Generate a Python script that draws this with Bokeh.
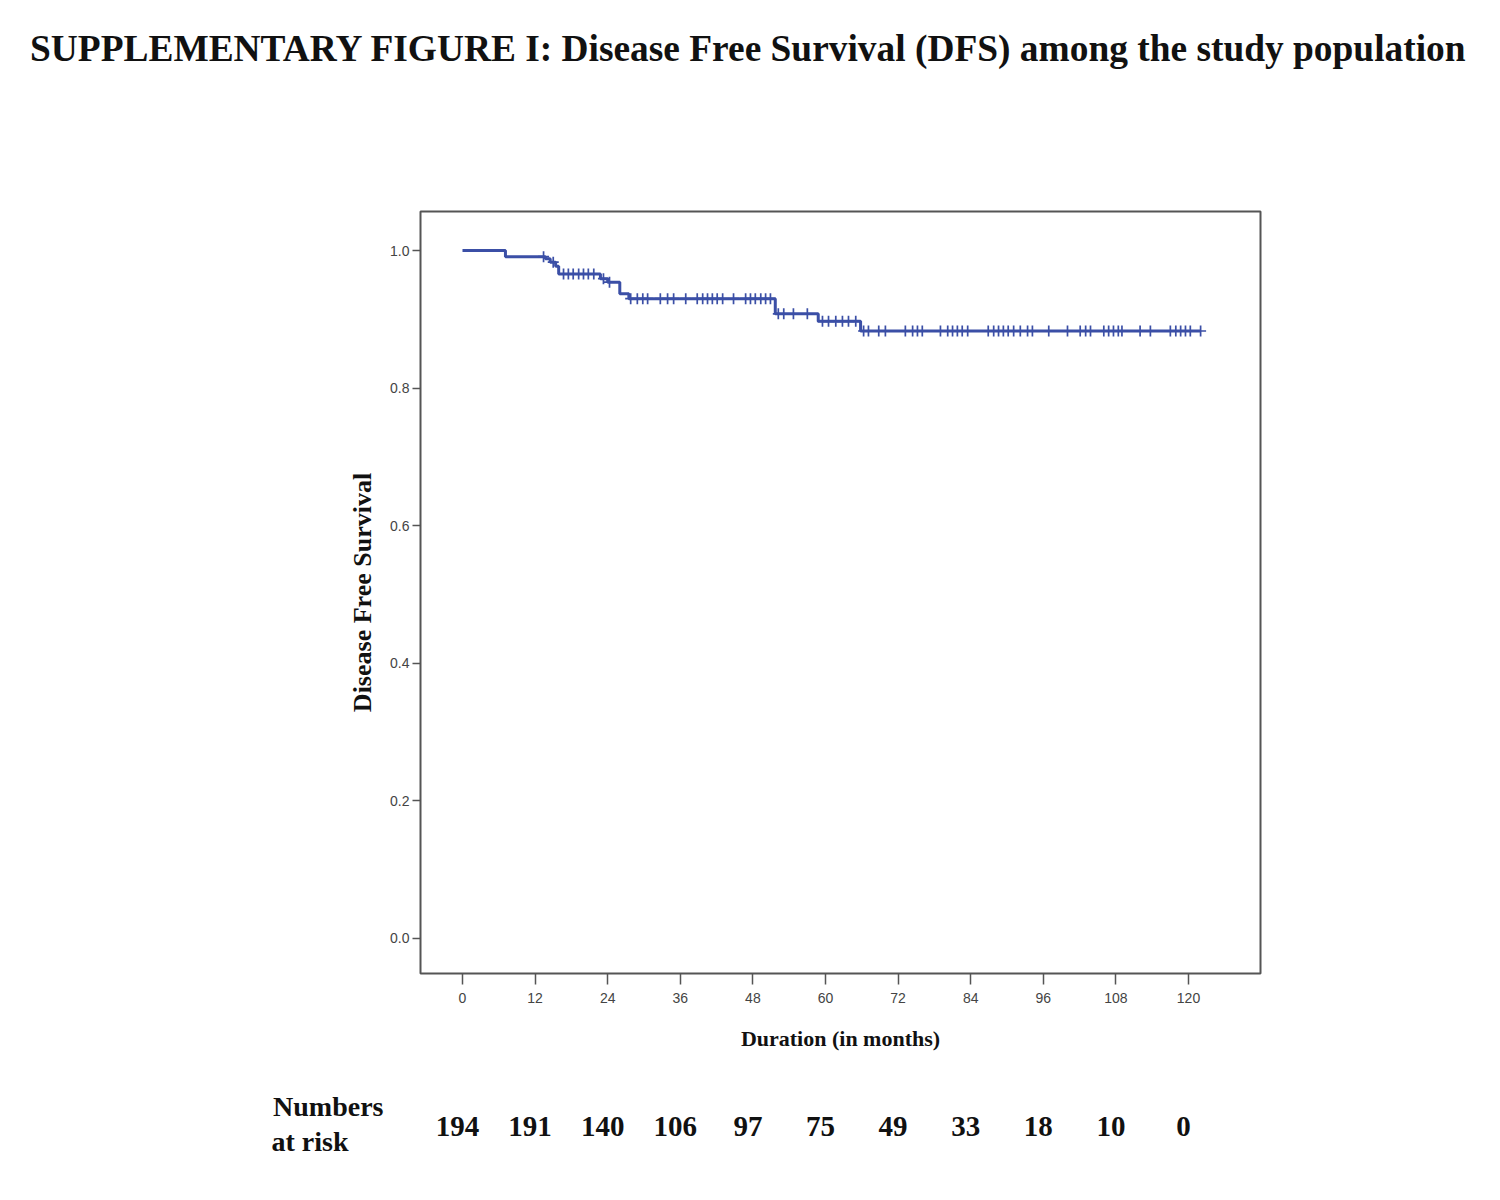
from bokeh.plotting import figure
from bokeh.models import ColumnDataSource, FixedTicker, Range1d, LinearAxis
from bokeh.layouts import column
from bokeh.core.properties import value
from bokeh.embed import file_html
from bokeh.resources import INLINE
import numpy as np

# ---- data ----
step_times = [0, 7.1, 13.7, 14.5, 15.4, 15.9, 22.8, 24.0, 26.0, 27.5, 51.7, 58.8, 65.8]
step_surv = [1.0, 0.991, 0.988, 0.983, 0.977, 0.966, 0.959, 0.954, 0.937, 0.930, 0.908, 0.897, 0.883]
last_time = 122.0

censor_times = [13.4, 15.0, 16.7, 17.5, 18.3, 19.2, 20.0, 20.8, 21.7, 23.3, 24.3,
                27.8, 28.9, 29.8, 30.6, 32.7, 33.9, 34.9, 36.9, 38.8, 39.7, 40.5,
                41.3, 42.1, 43.0, 44.8, 46.8, 47.6, 48.4, 49.3, 50.1, 50.9,
                52.2, 53.1, 54.7, 57.0, 59.5, 60.5, 61.7, 62.8, 63.8, 65.0,
                66.3, 67.1, 68.8, 69.9, 73.2, 74.4, 75.2, 76.0, 79.0, 80.2, 81.0,
                81.8, 82.6, 83.5, 86.9, 87.8, 88.6, 89.4, 90.2, 91.1, 92.2, 93.4,
                94.2, 96.9, 100.0, 102.1, 103.0, 103.8, 106.0, 106.8, 107.6, 108.4,
                109.0, 112.0, 113.7, 117.0, 117.9, 118.7, 119.5, 120.3, 122.0]

risk_times = [0, 12, 24, 36, 48, 60, 72, 84, 96, 108, 120]
risk_numbers = ["194", "191", "140", "106", "97", "75", "49", "33", "18", "10", "0"]
risk_header = ["Numbers", "at risk"]

x_ticks = [0, 12, 24, 36, 48, 60, 72, 84, 96, 108, 120]
y_ticks = [0.0, 0.2, 0.4, 0.6, 0.8, 1.0]
y_tick_labels = ["0.0", "0.2", "0.4", "0.6", "0.8", "1.0"]

title_text = "SUPPLEMENTARY FIGURE I: Disease Free Survival (DFS) among the study population"
x_label = "Duration (in months)"
y_label = "Disease Free Survival"

# ---- derived ----
line_x = step_times + [last_time]
line_y = step_surv + [step_surv[-1]]
idx = np.searchsorted(np.array(step_times), np.array(censor_times), side="right") - 1
censor_surv = [step_surv[i] for i in idx]

BLUE = "#3b4fa6"
TXT = "#111111"
W = 1484
X0, X1 = -6.94, 131.9
Y0, Y1 = -0.0509, 1.0567
FL, FT, FW, FH = 420, 211, 840, 762
FR = W - FL - FW
BOT = 87
RISK_H = 124

# ---- main KM plot ----
p = figure(width=W, frame_width=FW, frame_height=FH,
           min_border_left=FL, min_border_right=FR,
           min_border_top=FT, min_border_bottom=BOT,
           x_range=Range1d(X0, X1), y_range=Range1d(Y0, Y1),
           output_backend="svg", toolbar_location=None)
p.grid.visible = False
p.outline_line_color = "#555555"
p.outline_line_width = 2

p.step(line_x, line_y, mode="after", line_color=BLUE, line_width=3)
p.scatter(censor_times, censor_surv, marker="cross", size=11,
          line_color=BLUE, line_width=1.7)

for ax in (p.xaxis[0], p.yaxis[0]):
    ax.axis_line_color = None
    ax.major_tick_line_color = "#555555"
    ax.major_tick_line_width = 1.5
    ax.major_tick_in = 0
    ax.minor_tick_line_color = None
    ax.major_label_text_color = "#444444"
    ax.major_label_text_font = "Liberation Sans"
    ax.axis_label_text_font = "Liberation Serif"
    ax.axis_label_text_font_style = "bold"
    ax.axis_label_text_color = TXT

p.xaxis.ticker = FixedTicker(ticks=x_ticks)
p.yaxis.ticker = FixedTicker(ticks=y_ticks)
p.yaxis.major_label_overrides = dict(zip(y_ticks, y_tick_labels))
p.xaxis.major_tick_out = 11
p.yaxis.major_tick_out = 8
p.xaxis.major_label_text_font_size = "14px"
p.xaxis.major_label_standoff = 8
p.yaxis.major_label_text_font_size = "14px"
p.yaxis.major_label_standoff = 3

p.xaxis.axis_label = x_label
p.xaxis.axis_label_text_font_size = "22px"
p.xaxis.axis_label_standoff = 20
p.yaxis.axis_label = y_label
p.yaxis.axis_label_text_font_size = "26px"
p.yaxis.axis_label_standoff = 10

# page title, drawn as the single label of an axis above the frame
# (extra range in page pixels across the frame so the label can be centred freely)
p.extra_x_ranges = {"page": Range1d(FL, FL + FW)}
title_pos = 748
tax = LinearAxis(x_range_name="page", ticker=FixedTicker(ticks=[title_pos]),
                 major_label_overrides={title_pos: title_text},
                 axis_line_color=None, major_tick_line_color=None,
                 minor_tick_line_color=None, major_tick_out=0, major_tick_in=0,
                 major_label_standoff=143,
                 major_label_text_font="Liberation Serif",
                 major_label_text_font_style="bold",
                 major_label_text_font_size="37.4px",
                 major_label_text_color=TXT)
p.add_layout(tax, "above")

# ---- numbers at risk strip (shares the KM x scale) ----
pr = figure(width=W, frame_width=FW, frame_height=RISK_H,
            min_border_left=FL, min_border_right=FR,
            min_border_top=0, min_border_bottom=0,
            x_range=p.x_range, y_range=Range1d(0, RISK_H),
            x_axis_type=None, output_backend="svg", toolbar_location=None)
pr.grid.visible = False
pr.outline_line_color = None

src = ColumnDataSource(dict(x=risk_times, y=[58] * len(risk_times), t=risk_numbers))
pr.text(x="x", y="y", text="t", source=src, x_offset=-5,
        text_font=value("Liberation Serif"), text_font_style="bold",
        text_font_size="29px", text_align="center", text_baseline="middle",
        text_color=TXT)

hy = [78, 43]
pad = "\u00a0" * 5
ry = pr.yaxis[0]
ry.ticker = FixedTicker(ticks=hy)
ry.major_label_overrides = {hy[0]: risk_header[0], hy[1]: risk_header[1] + pad}
ry.axis_line_color = None
ry.major_tick_line_color = None
ry.minor_tick_line_color = None
ry.major_tick_out = 0
ry.major_tick_in = 0
ry.major_label_standoff = 37
ry.major_label_text_font = "Liberation Serif"
ry.major_label_text_font_style = "bold"
ry.major_label_text_font_size = "28px"
ry.major_label_text_color = TXT

layout = column(p, pr, spacing=0)
open("out.html", "w").write(file_html(layout, INLINE))
